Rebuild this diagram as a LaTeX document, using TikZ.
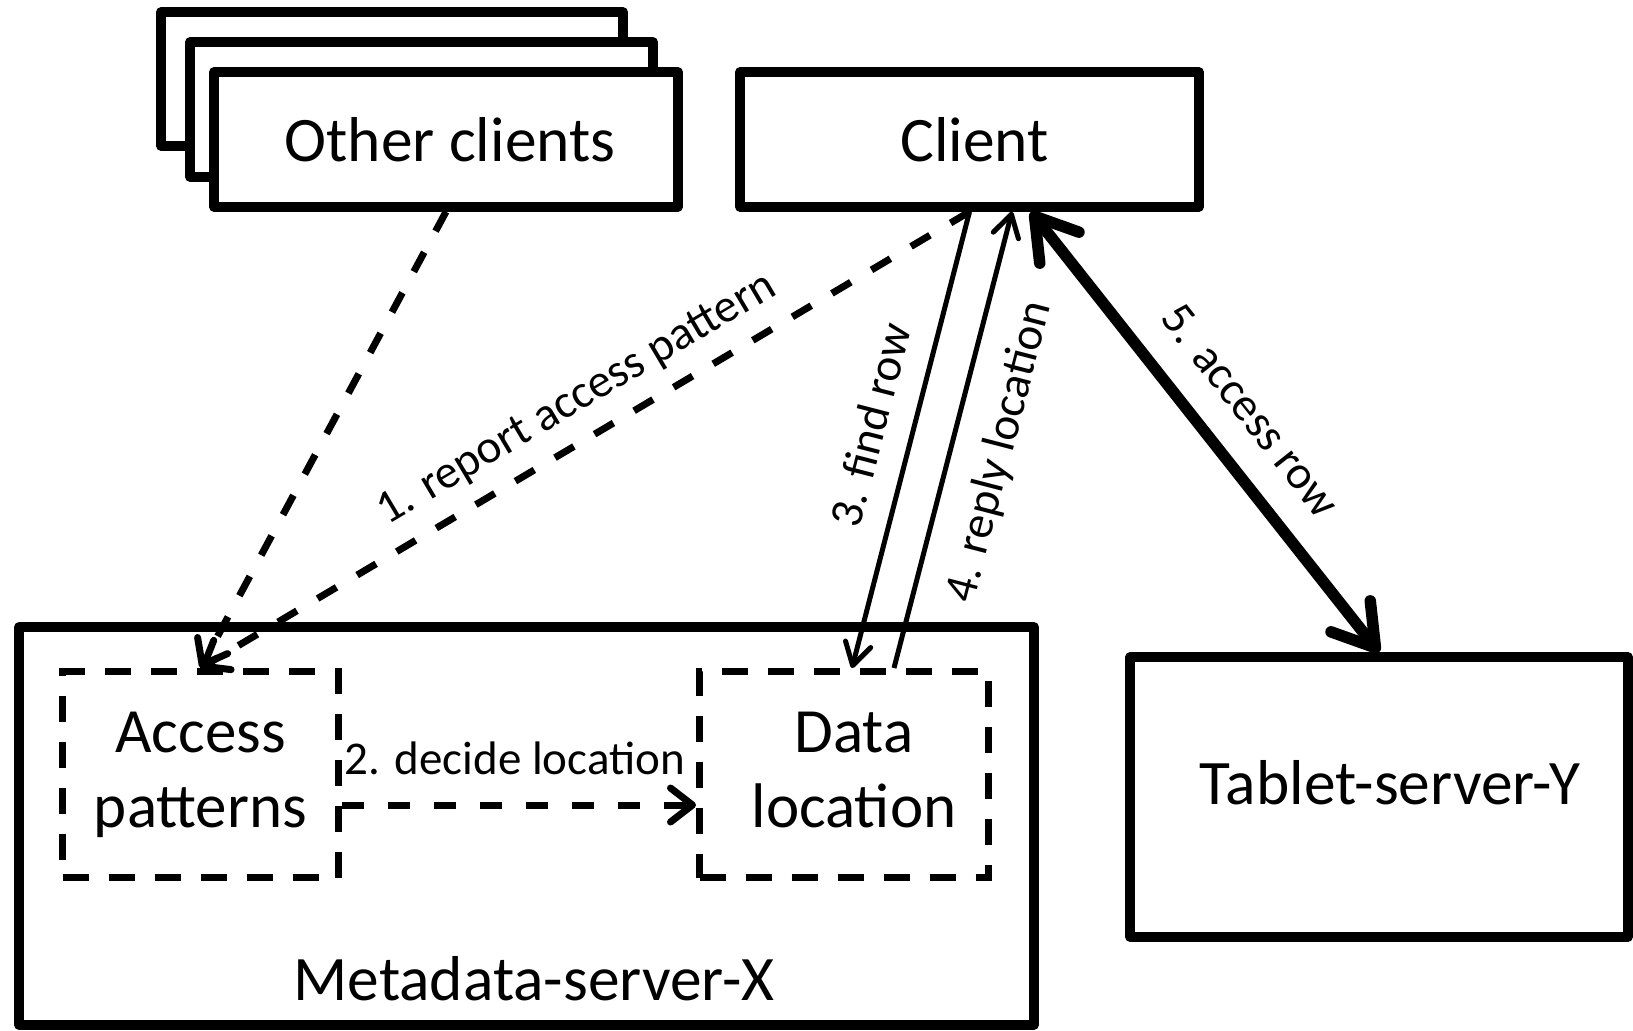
\documentclass[tikz,border=0pt]{standalone}
\usepackage{fontspec}
\setmainfont{Carlito}
\usetikzlibrary{arrows.meta}
\begin{document}
\begin{tikzpicture}[x=0.5pt,y=-0.5pt,
  box/.style={draw, line width=4.75pt, line join=round, fill=white, inner sep=0pt,
    font=\fontsize{31.7}{37.5}\selectfont, align=center},
  dbox/.style={draw, line width=3.5pt, dash pattern=on 13pt off 10pt, inner sep=0pt,
    font=\fontsize{31.5}{37.5}\selectfont, align=center},
  txt/.style={font=\fontsize{31.7}{37.5}\selectfont, inner sep=0pt},
  lbl/.style={font=\fontsize{23.5}{28}\selectfont, inner sep=2pt},
  darrow/.style={line width=3.5pt, dash pattern=on 11pt off 12pt,
    -{Straight Barb[length=11pt,width=17pt,round]}},
  tarrow/.style={line width=2.5pt, -{Straight Barb[length=11pt,width=13pt,round]}},
  bigarrow/.style={line width=5.75pt,
    {Straight Barb[length=20pt,width=25pt,round]}-{Straight Barb[length=20pt,width=25pt,round]}},
]
\useasboundingbox (0,0) rectangle (1633,1030);

% Other clients stack
\node[box, minimum width=231pt, minimum height=67pt] (ob1) at (392,79) {};
\node[box, minimum width=231.5pt, minimum height=67.5pt] (ob2) at (421.5,109.5) {};
\node[box, minimum width=232pt, minimum height=67.5pt] (oc) at (446,139.5) {\hspace*{4pt}Other clients};

% Client
\node[box, minimum width=229.5pt, minimum height=67.5pt] (client) at (969.5,139.5) {\hspace*{5pt}Client};

% Metadata server
\node[box, minimum width=507.5pt, minimum height=199pt] (meta) at (526.5,826) {};
\node[txt] (metalabel) at (534,979) {Metadata-server-X};

% Inner dashed boxes
\node[dbox, minimum width=138pt, minimum height=103pt] (ap) at (200.5,774.5) {Access\\patterns};
\node[dbox, minimum width=144.5pt, minimum height=103pt, text depth=5pt] (dl) at (844,774.5)
  {\hspace*{10pt}Data\\\hspace*{10pt}location};

% Tablet server
\node[box, minimum width=249pt, minimum height=140pt] (tablet) at (1379,797) {};
\node[txt] (tabletlabel) at (1390,783) {Tablet-server-Y};

% Connectors
\draw[darrow] (oc.south) -- (ap.north);
\draw[darrow] (client.south) -- node[lbl, sloped, pos=0.485, above=6pt] {1. report access pattern} (ap.north);
\draw[darrow] ([yshift=-15.25pt]ap.east) -- node[lbl, above=11.5pt, xshift=-2pt] {2. decide location} ([yshift=-15.25pt]dl.west);
\draw[tarrow] (client.south) -- node[lbl, sloped, pos=0.49, above=10pt] {3. find row} ([xshift=4pt]dl.north);
\draw[tarrow] ([xshift=25pt]dl.north) -- node[lbl, sloped, pos=0.5, below=11pt] {4. reply location} ([xshift=21.25pt]client.south);
\draw[bigarrow] ([xshift=30.75pt]client.south) -- node[lbl, sloped, pos=0.52, above=12pt] {5. access row} (tablet.north);
\end{tikzpicture}
\end{document}
